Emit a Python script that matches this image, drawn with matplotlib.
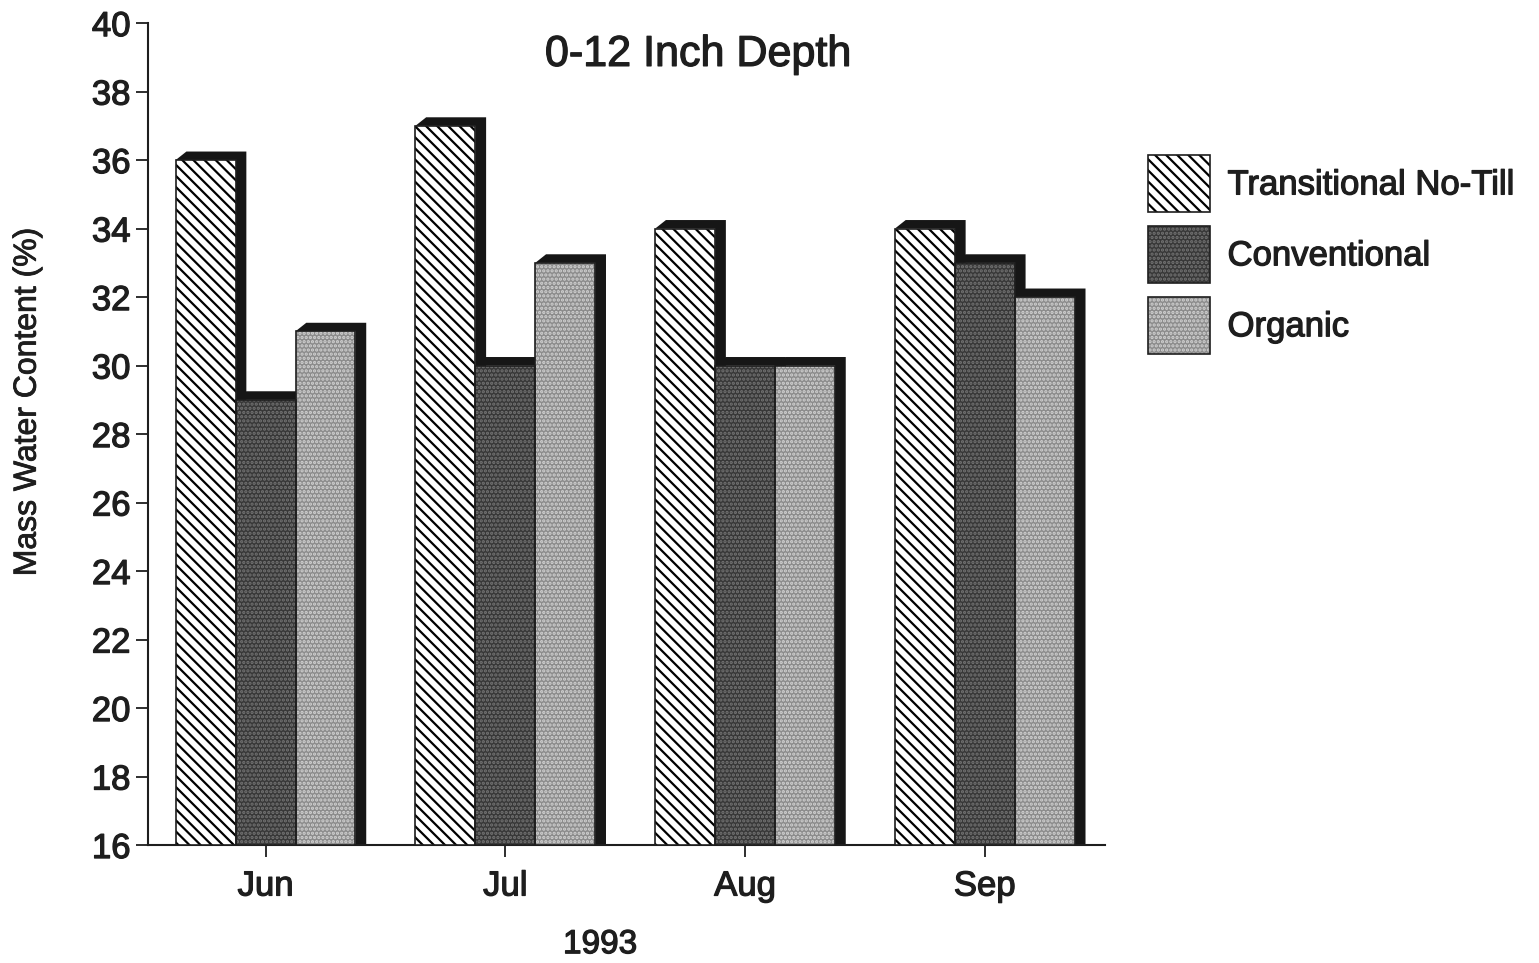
import numpy as np
import matplotlib
matplotlib.use("Agg")
import matplotlib.pyplot as plt
import matplotlib.patheffects as pe
from matplotlib.patches import Patch

# DATA
months = ["Jun", "Jul", "Aug", "Sep"]
series_names = ["Transitional No-Till", "Conventional", "Organic"]
no_till = [36, 37, 34, 34]
conventional = [29, 30, 30, 33]
organic = [31, 33, 30, 32]
y_ticks = list(range(16, 41, 2))

plt.rcParams['font.family'] = ['Liberation Sans', 'DejaVu Sans']
plt.rcParams['hatch.linewidth'] = 1.6

# STYLE
YMIN, YMAX = 16, 40
BAR_W = 0.25
DX, DY = 0.045, 0.25   # fake 3d depth offset (data units)
SHADOW = '#161616'
INK = '#1e1e1e'
# scanned print looks a bit heavier than regular weight
HEAVY = [pe.withStroke(linewidth=0.9, foreground=INK)]
styles = [
    dict(face='white', hatch='\\\\\\', hcolor='black'),
    dict(face='#383838', hatch='....', hcolor='#747474'),
    dict(face='#8c8c8c', hatch='....', hcolor='#d2d2d2'),
]

fig = plt.figure(figsize=(15.39, 9.63), dpi=100)
ax = fig.add_axes([0.0962, 0.1225, 0.6216, 0.8535])

x = np.arange(len(months))
values = [no_till, conventional, organic]

for i in range(len(months)):
    for j, vals in enumerate(values):
        x0 = x[i] + (j - 1) * BAR_W - BAR_W / 2
        x1 = x0 + BAR_W
        h = vals[i]
        st = styles[j]
        # dark top + side
        ax.fill([x0, x0 + DX, x1 + DX, x1 + DX, x1, x1],
                [h, h + DY, h + DY, YMIN, YMIN, h],
                color=SHADOW, lw=0, zorder=2)
        ax.bar(x0, h - YMIN, bottom=YMIN, width=BAR_W, align='edge',
               color=st['face'], edgecolor=st['hcolor'], hatch=st['hatch'],
               lw=0, zorder=3)
        ax.bar(x0, h - YMIN, bottom=YMIN, width=BAR_W, align='edge',
               fill=False, edgecolor=INK, lw=1.2, zorder=4)

ax.set_xlim(-0.49, 3.5)
ax.set_ylim(YMIN, YMAX)
ax.set_yticks(y_ticks)
ax.set_xticks(x)
ax.set_xticklabels(months)
for s in ['top', 'right']:
    ax.spines[s].set_visible(False)
for s in ['left', 'bottom']:
    ax.spines[s].set_linewidth(1.5)
    ax.spines[s].set_color(INK)
ax.tick_params(axis='both', direction='out', length=8.6, width=1.3,
               labelsize=25, colors=INK, pad=4)
ax.tick_params(axis='x', pad=9)
for lab in ax.get_xticklabels() + ax.get_yticklabels():
    lab.set_path_effects(HEAVY)

# legend
handles = []
for st in styles:
    handles.append((Patch(facecolor=st['face'], edgecolor=st['hcolor'], hatch=st['hatch'], lw=0),
                    Patch(fill=False, edgecolor=INK, lw=1.2)))
leg = ax.legend(handles, series_names, loc='upper left',
                bbox_to_anchor=(1148 / 1539, 1 - 155 / 963), bbox_transform=fig.transFigure,
                frameon=False, fontsize=25,
                handlelength=1.79, handleheight=2.15,
                handletextpad=0.5, labelspacing=0.4, borderpad=0, borderaxespad=0)
for t in leg.get_texts():
    t.set_color(INK)
    t.set_path_effects(HEAVY)

fig.text(0.4535, 0.943, "0-12 Inch Depth", ha='center', va='center', fontsize=31,
         color=INK, path_effects=HEAVY)
fig.text(0.39, 0.019, "1993", ha='center', va='center', fontsize=24, color=INK,
         path_effects=HEAVY)
fig.text(0.018, 0.583, "Mass Water Content (%)", rotation=90, ha='center', va='center',
         fontsize=23, color=INK, path_effects=[pe.withStroke(linewidth=0.6, foreground=INK)])

fig.savefig("out.png", dpi=100)
